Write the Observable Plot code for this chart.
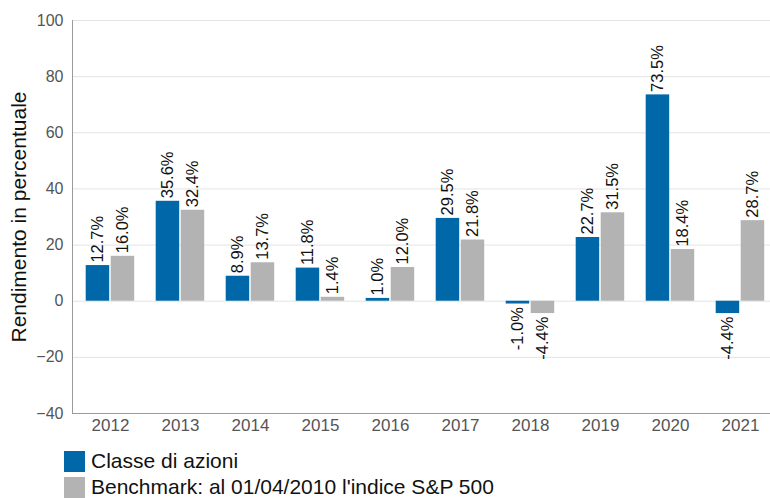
<!DOCTYPE html>
<html>
<head>
<meta charset="utf-8">
<script src="https://cdn.jsdelivr.net/npm/d3@7"></script>
<script src="https://cdn.jsdelivr.net/npm/@observablehq/plot@0.6"></script>
<style>
  html, body { margin: 0; padding: 0; background: #fff; overflow: hidden; }
  body { width: 770px; height: 498px; font-family: "Liberation Sans", Arial, sans-serif; }
  #legend { margin-left: 64px; margin-top: 3px; }
  .item { display: flex; align-items: center; height: 26px; font-size: 21px; color: #111; }
  .sw { width: 21px; height: 21px; margin-right: 6px; flex: none; }
</style>
</head>
<body>
<div id="chart"></div>
<div id="legend"></div>
<script>
const years = ["2012","2013","2014","2015","2016","2017","2018","2019","2020","2021"];
const classe = [12.7, 35.6, 8.9, 11.8, 1.0, 29.5, -1.0, 22.7, 73.5, -4.4];
const benchmark = [16.0, 32.4, 13.7, 1.4, 12.0, 21.8, -4.4, 31.5, 18.4, 28.7];
const seriesNames = ["Classe di azioni", "Benchmark: al 01/04/2010 l'indice S&P 500"];
const colors = ["#0067a9", "#b3b3b3"];
const yTicks = [-40, -20, 0, 20, 40, 60, 80, 100];
const yTitle = "Rendimento in percentuale";

const rowsA = years.map((year, i) => ({year, value: classe[i]}));
const rowsB = years.map((year, i) => ({year, value: benchmark[i]}));
const fmt = d => d.value.toFixed(1) + "%";

function labels(rows, dx) {
  return [
    Plot.text(rows.filter(d => d.value >= 0), {x: "year", y: "value", text: fmt, rotate: -90, textAnchor: "start", lineAnchor: "middle", dx, dy: -3, fontSize: 16.5, fill: "#111"}),
    Plot.text(rows.filter(d => d.value < 0), {x: "year", y: "value", text: fmt, rotate: -90, textAnchor: "end", lineAnchor: "middle", dx, dy: 3, fontSize: 16.5, fill: "#111"})
  ];
}

const chart = Plot.plot({
  width: 770,
  height: 445,
  marginTop: 20,
  marginBottom: 32,
  marginLeft: 72,
  marginRight: 0,
  style: {fontFamily: "'Liberation Sans', Arial, sans-serif", background: "#fff", overflow: "visible"},
  x: {domain: years, range: [72.3, 777], padding: 0},
  y: {domain: [-40, 100]},
  marks: [
    Plot.gridY(yTicks, {stroke: "#e3e3e3", strokeOpacity: 1}),
    Plot.barY(rowsA, {x: "year", y: "value", fill: colors[0], insetLeft: 10.7, insetRight: 35.8}),
    Plot.barY(rowsB, {x: "year", y: "value", fill: colors[1], insetLeft: 35.7, insetRight: 10.8}),
    Plot.ruleY([-40], {stroke: "#9a9a9a"}),
    Plot.frame({anchor: "left", stroke: "#9a9a9a"}),
    Plot.axisY(yTicks, {tickSize: 0, tickPadding: 9, fontSize: 16, fill: "#555", label: null}),
    Plot.axisX({tickSize: 0, tickPadding: 5, fontSize: 17, fill: "#555", label: null}),
    ...labels(rowsA, -12.5),
    ...labels(rowsB, 12.5),
    Plot.text([yTitle], {frameAnchor: "left", rotate: -90, dx: -53, fontSize: 21, fill: "#111", textAnchor: "middle", lineAnchor: "middle"})
  ]
});
document.getElementById("chart").appendChild(chart);

const legend = document.getElementById("legend");
seriesNames.forEach((name, i) => {
  const item = document.createElement("div");
  item.className = "item";
  const sw = document.createElement("span");
  sw.className = "sw";
  sw.style.background = colors[i];
  const t = document.createElement("span");
  t.textContent = name;
  item.appendChild(sw);
  item.appendChild(t);
  legend.appendChild(item);
});
</script>
</body>
</html>
